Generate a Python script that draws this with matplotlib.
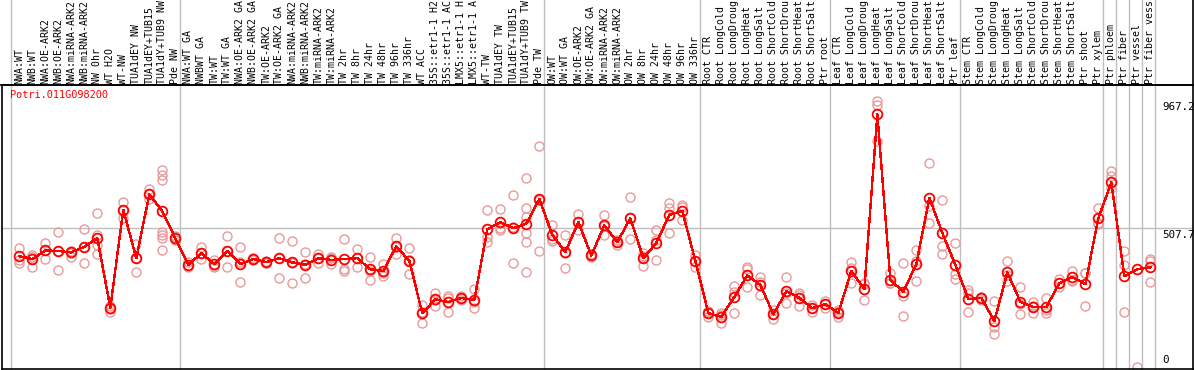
import numpy as np
import matplotlib
matplotlib.use("Agg")
import matplotlib.pyplot as plt
import matplotlib.transforms as mtransforms
from matplotlib.lines import Line2D

# sample labels (one column each), as far as they are visible in the header
labels = [
    "NWA:WT", "NWB:WT", "NWA:OE-ARK2", "NWB:OE-ARK2", "NWA:miRNA-ARK2", "NWB:miRNA-ARK2",
    "NW 0hr", "WT H2O", "WT-NW", "TUA1dEY NW", "TUA1dEY+TUB15", "TUA1dY+TUB9 NW", "Pde NW",
    "NWA:WT GA", "NWBWT GA", "TW:WT", "TW:WT GA", "NWA:OE-ARK2 GA", "NWB:OE-ARK2 GA",
    "TW:OE-ARK2", "TW:OE-ARK2 GA", "NWA:miRNA-ARK2", "NWB:miRNA-ARK2", "TW:miRNA-ARK2",
    "TW:miRNA-ARK2", "TW 2hr", "TW 8hr", "TW 24hr", "TW 48hr", "TW 96hr", "TW 336hr",
    "WT ACC", "35S::etr1-1 H2", "35S::etr1-1 AC", "LMX5::etr1-1 H", "LMX5::etr1-1 A",
    "WT-TW", "TUA1dEY TW", "TUA1dEY+TUB15", "TUA1dY+TUB9 TW", "Pde TW",
    "OW:WT", "OW:WT GA", "OW:OE-ARK2", "OW:OE-ARK2 GA", "OW:miRNA-ARK2", "OW:miRNA-ARK2",
    "OW 2hr", "OW 8hr", "OW 24hr", "OW 48hr", "OW 96hr", "OW 336hr",
    "Root CTR", "Root LongCold", "Root LongDroug", "Root LongHeat", "Root LongSalt",
    "Root ShortCold", "Root ShortDrou", "Root ShortHeat", "Root ShortSalt", "Ptr root",
    "Leaf CTR", "Leaf LongCold", "Leaf LongDroug", "Leaf LongHeat", "Leaf LongSalt",
    "Leaf ShortCold", "Leaf ShortDrou", "Leaf ShortHeat", "Leaf ShortSalt", "Ptr leaf",
    "Stem CTR", "Stem LongCold", "Stem LongDroug", "Stem LongHeat", "Stem LongSalt",
    "Stem ShortCold", "Stem ShortDrou", "Stem ShortHeat", "Stem ShortSalt", "Ptr shoot",
    "Ptr xylem", "Ptr phloem", "Ptr fiber", "Ptr vessel", "Ptr fiber vess",
]

# mean expression per sample
means = [
    407, 397, 428, 426, 421, 441, 472, 222, 574, 400, 630, 569, 472,
    376, 418, 379, 425, 379, 397, 386, 400, 385, 376, 400, 394, 397, 400, 360, 354,
    443, 390, 202, 252, 242, 257, 250, 504, 530, 508, 524, 613,
    484, 422, 530, 410, 518, 458, 544, 400, 455, 556, 570, 390,
    202, 189, 260, 338, 304, 198, 281, 257, 220, 234,
    203, 354, 289, 918, 322, 279, 379, 618, 491, 376,
    253, 257, 174, 349, 243, 224, 224, 310, 332, 307, 544,
    673, 335, 361, 367,
]

# replicate values per sample
reps = [
    [436, 394, 384], [411, 405, 369], [454, 428, 396], [493, 426, 358], [426, 420, 405],
    [504, 441, 382], [562, 484, 446, 415], [228, 216, 207], [601, 574, 546], [451, 400, 349],
    [649, 631, 614], [717, 700, 682, 493, 484, 472, 428], [480, 472, 465],
    [385, 376, 367], [441, 418, 396], [395, 372, 369], [480, 426, 369], [439, 385, 313],
    [400, 397, 394], [390, 386, 382], [472, 400, 328], [462, 383, 310], [421, 379, 328],
    [415, 401, 384], [403, 400, 379], [468, 360, 355], [432, 401, 367], [403, 355, 322],
    [379, 346, 337], [472, 442, 415], [436, 392, 342], [232, 206, 168], [276, 251, 229],
    [264, 257, 205], [264, 257, 250], [289, 241, 220], [573, 477, 459], [576, 508, 502],
    [628, 514, 382], [689, 580, 549, 490, 457, 349], [804, 609, 426],
    [520, 470, 462], [484, 418, 364], [559, 529, 502], [415, 410, 405], [556, 516, 482],
    [466, 460, 448], [619, 545, 468], [420, 408, 372], [502, 466, 394], [598, 580, 490],
    [592, 586, 538], [412, 391, 367],
    [210, 207, 189], [204, 195, 168], [300, 278, 202], [367, 360, 295], [333, 313, 266],
    [214, 200, 180], [331, 274, 238], [274, 268, 229], [232, 221, 207], [247, 235, 220],
    [214, 208, 187], [387, 365, 310], [310, 307, 250], [967, 950, 822], [346, 310, 310],
    [382, 263, 192], [430, 390, 318], [743, 588, 526], [610, 444, 415], [456, 343, 324],
    [286, 274, 206], [261, 260, 250], [246, 153, 127], [390, 339, 318], [295, 236, 198],
    [243, 227, 202], [256, 214, 202], [325, 310, 295], [355, 322, 319], [348, 345, 228],
    [582, 526, 524], [714, 696, 652], [426, 376, 205], [9], [397, 391, 313],
]

# group boundaries (column index after which a grey line is drawn)
group_ends = [0, 13, 41, 53, 63, 73, 84, 85, 86, 87, 88]
gene = "Potri.011G098200"
y_marks = [967.2, 507.7, 0]

W, H = 1194, 370
fig = plt.figure(figsize=(W / 100, H / 100), dpi=100)
# plot area in pixels: x 2..1193, y 85..369.3 (from top)
left, right, top, bottom = 2, 1193, 85, 369.3
ax = fig.add_axes([left / W, (H - bottom) / H, (right - left) / W, (bottom - top) / H])

x = np.arange(1, len(means) + 1)
ax.set_xlim(-0.33, 91.28)
ax.set_ylim(0, 1023.7)

grey = "#c0c0c0"
pale = "#e89a9a"
font = "DejaVu Sans Mono"
fs = 7.1

# grid line at 507.7
ax.axhline(507.7, color=grey, lw=1, zorder=1)
# grey group separators, reaching up through the header
for g in group_ends:
    ax.axvline(g + 0.37, ymin=0, ymax=bottom / (bottom - top) + 0.01, color=grey,
               lw=1, clip_on=False, zorder=1)

# replicates
for i, r in enumerate(reps):
    ax.plot([x[i]] * len(r), r, "o", ms=6.5, mfc="none", mec=pale, mew=1, zorder=2)

# means
ax.plot(x, means, "-", color="red", lw=1, zorder=3, antialiased=False)
ax.plot(x, means, "o", ms=7, mfc="none", mec="red", mew=1.3, zorder=4)

ax.set_xticks([])
ax.set_yticks([])
for s in ["left", "right", "top", "bottom"]:
    ax.spines[s].set_linewidth(1.2)
ax.spines["right"].set_visible(False)

# top rule across the full width and right edge line spanning full height
fig.add_artist(Line2D([0, right / W], [(H - top) / H, (H - top) / H], color="black", lw=1.2))
fig.add_artist(Line2D([right / W, right / W], [0, 1], color="black", lw=1.2))

# column labels in the header
trans = mtransforms.blended_transform_factory(ax.transData, fig.transFigure)
for i, lab in enumerate(labels):
    ax.text(x[i], (H - 83.5) / H, lab, transform=trans, rotation=90, ha="center",
            va="bottom", fontsize=fs, family=font, clip_on=False)

# gene name
fig.text(10 / W, (H - 95.5) / H, gene, color="red", fontsize=fs + 0.3, family=font,
         ha="left", va="center")

# value labels on the right
ytrans = mtransforms.blended_transform_factory(fig.transFigure, ax.transData)
for v in y_marks:
    txt = "0" if v == 0 else "%.1f" % v
    if v == 0:
        ax.text(1162 / W, v + 15, txt, transform=ytrans, fontsize=fs + 0.7, family=font,
                ha="left", va="bottom")
    else:
        ax.text(1162 / W, v - 5, txt, transform=ytrans, fontsize=fs + 0.7, family=font,
                ha="left", va="top")

fig.savefig("out.png", dpi=100)
